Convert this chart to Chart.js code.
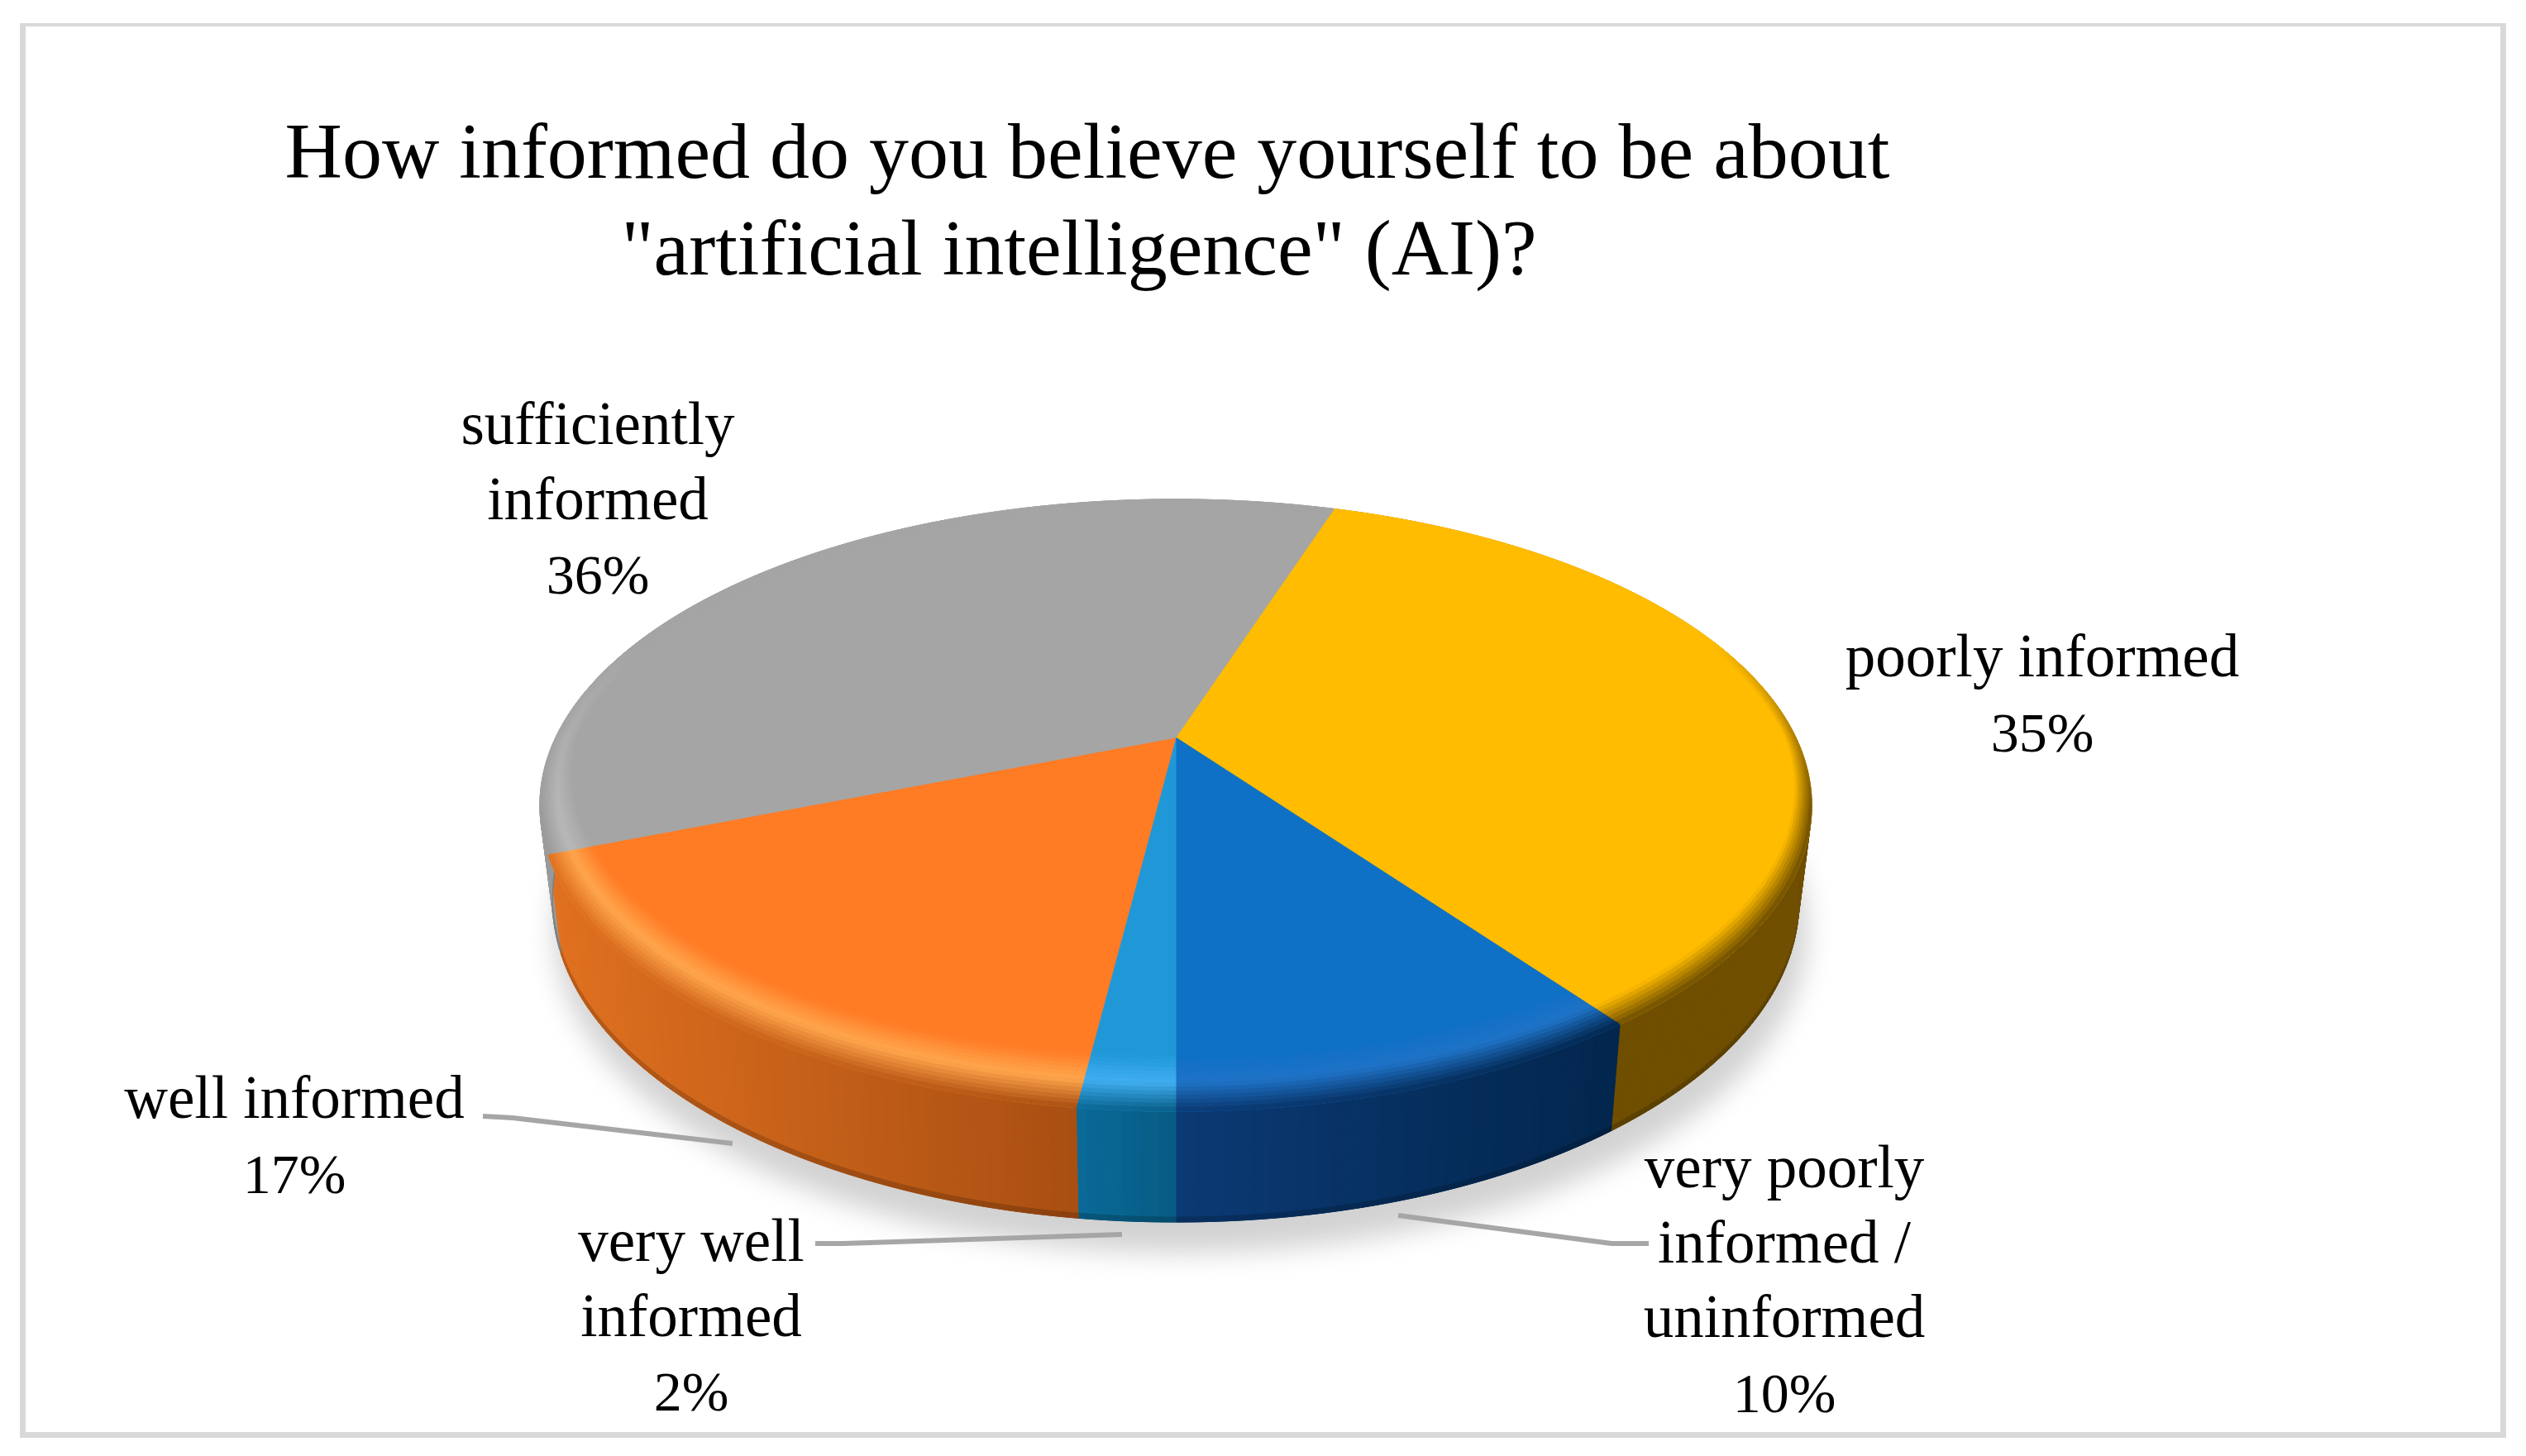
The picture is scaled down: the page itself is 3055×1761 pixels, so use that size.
<!DOCTYPE html>
<html>
<head>
<meta charset="utf-8">
<title>AI survey pie</title>
<script src="https://cdn.jsdelivr.net/npm/chart.js@4"></script>
<style>
  html, body { margin: 0; padding: 0; background: #fff; }
  canvas { display: block; }
</style>
</head>
<body>
<canvas id="pieChart" width="3055" height="1761"></canvas>
<script>
const categories = ['poorly informed', 'very poorly informed / uninformed', 'very well informed', 'well informed', 'sufficiently informed'];
const values = [35, 10, 2, 17, 36];
const titleLines = ['How informed do you believe yourself to be about', '"artificial intelligence" (AI)?'];
const labelLines = [['poorly informed'], ['very poorly', 'informed /', 'uninformed'], ['very well', 'informed'], ['well informed'], ['sufficiently', 'informed']];

const topColors = ['#ffbc00', '#0e71c6', '#2098d8', '#ff7b24', '#a5a5a5'];
const rimColors = ['#ffbc00', '#1f72c6', '#40aef0', '#ffa64d', '#b8b8b8'];
const sideFrom = ['#6f4e00', '#0b3a75', '#0a6a98', '#e0701f', '#9a9a9a'];
const sideTo = ['#6f4e00', '#02264d', '#075c85', '#a94f12', '#9a9a9a'];

// where each label block sits: centre x, first baseline
const labelSpots = [[2470, 818], [2158, 1436], [836, 1525], [356, 1352], [723, 537]];
const leaders = [
  null,
  [[1691, 1470], [1949, 1504], [1994, 1504]],
  [[986, 1504], [1020, 1504], [1357, 1493]],
  [[584, 1350], [620, 1352], [886, 1383]],
  null
];

// tilted disc: the pie's unit circle goes through a perspective projection
const topFace = { dy: 0, d: 750, e: 352, c: -0.2216 };
const baseFace = { dy: 112, d: 735, e: 369, c: -0.2216 };

function project(arc, face, angle, r) {
  const u = r * Math.cos(angle);
  const v = r * Math.sin(angle);
  const k = 1 + face.c * v;
  return [arc.x + face.d * u / k, arc.y + face.dy + face.e * v / k];
}

function hexRgb(hex) {
  return [1, 3, 5].map((i) => parseInt(hex.slice(i, i + 2), 16));
}

function mix(a, b, t) {
  return a.map((n, i) => n + (b[i] - n) * t);
}

function css(c) {
  return `rgb(${c.map((n) => Math.round(n)).join(',')})`;
}

function clamp(n) {
  return Math.min(1, Math.max(0, n));
}

function quad(ctx, pts, color) {
  ctx.fillStyle = color;
  ctx.strokeStyle = color;
  ctx.lineWidth = 1;
  ctx.beginPath();
  pts.forEach((p, i) => (i ? ctx.lineTo(p[0], p[1]) : ctx.moveTo(p[0], p[1])));
  ctx.closePath();
  ctx.fill();
  ctx.stroke();
}

function angleSteps(arc) {
  const n = Math.max(2, Math.ceil((arc.endAngle - arc.startAngle) / 0.012));
  const out = [];
  for (let i = 0; i <= n; i++) out.push(arc.startAngle + (arc.endAngle - arc.startAngle) * i / n);
  return out;
}

function sideColor(i, t) {
  return mix(hexRgb(sideFrom[i]), hexRgb(sideTo[i]), clamp(t));
}

const tiltedPie = {
  id: 'tiltedPie',
  beforeDatasetDraw(chart) {
    const ctx = chart.ctx;
    const arcs = chart.getDatasetMeta(0).data;
    ctx.save();

    // soft shadow under the disc
    ctx.save();
    ctx.filter = 'blur(16px)';
    ctx.fillStyle = '#d2d2d2';
    ctx.beginPath();
    for (let a = 0; a < Math.PI * 2; a += 0.02) {
      const p = project(arcs[0], baseFace, a, 1.005);
      ctx.lineTo(p[0] + 6, p[1] + 34);
    }
    ctx.closePath();
    ctx.fill();
    ctx.restore();

    // side wall
    arcs.forEach((arc, i) => {
      const steps = angleSteps(arc);
      const xs = steps.map((a) => project(arc, topFace, a, 1)[0]);
      const xMin = Math.min(...xs);
      const xMax = Math.max(...xs);
      for (let s = 0; s < steps.length - 1; s++) {
        const col = sideColor(i, (xs[s] - xMin) / (xMax - xMin || 1));
        const a0 = project(arc, topFace, steps[s], 1);
        const a1 = project(arc, topFace, steps[s + 1], 1);
        const b0 = project(arc, baseFace, steps[s], 1);
        const b1 = project(arc, baseFace, steps[s + 1], 1);
        quad(ctx, [a0, a1, b1, b0], css(col));
        const e0 = [b0[0], b0[1] - 6];
        const e1 = [b1[0], b1[1] - 6];
        quad(ctx, [e0, e1, b1, b0], css(mix(col, [0, 0, 0], 0.18)));
      }
    });

    // flat top
    arcs.forEach((arc, i) => {
      const pts = [project(arc, topFace, 0, 0)];
      angleSteps(arc).forEach((a) => pts.push(project(arc, topFace, a, 1)));
      quad(ctx, pts, topColors[i]);
    });

    // rounded rim between the top and the wall
    arcs.forEach((arc, i) => {
      const steps = angleSteps(arc);
      const xs = steps.map((a) => project(arc, topFace, a, 1)[0]);
      const xMin = Math.min(...xs);
      const xMax = Math.max(...xs);
      const top = hexRgb(topColors[i]);
      const rim = hexRgb(rimColors[i]);
      const rows = 14;
      for (let s = 0; s < steps.length - 1; s++) {
        const a0 = steps[s];
        const a1 = steps[s + 1];
        const v = Math.sin((a0 + a1) / 2);
        const width = 0.035 + 0.085 * Math.max(0, v);
        const face = clamp((v + 0.35) / 0.6);
        const lit = mix(top, rim, face);
        const side = sideColor(i, (xs[s] - xMin) / (xMax - xMin || 1));
        for (let row = 0; row < rows; row++) {
          const t = (row + 0.5) / rows;
          const r0 = 1 - width * (1 - row / rows);
          const r1 = 1 - width * (1 - (row + 1) / rows);
          let c;
          if (t < 0.5) c = mix(top, lit, t / 0.5);
          else c = mix(lit, side, ((t - 0.5) / 0.5) * face);
          quad(ctx, [
            project(arc, topFace, a0, r0),
            project(arc, topFace, a1, r0),
            project(arc, topFace, a1, r1),
            project(arc, topFace, a0, r1)
          ], css(c));
        }
      }
    });
    ctx.restore();
    return false;
  },
  afterDraw(chart) {
    const ctx = chart.ctx;
    ctx.save();
    ctx.fillStyle = '#000';
    ctx.textAlign = 'center';
    ctx.textBaseline = 'alphabetic';

    ctx.font = '96px "Liberation Serif"';
    ctx.fillText(titleLines[0], 1315, 215);
    ctx.fillText(titleLines[1], 1305, 332);

    // leader lines
    ctx.strokeStyle = '#a6a6a6';
    ctx.lineWidth = 6;
    leaders.forEach((pts) => {
      if (!pts) return;
      ctx.beginPath();
      pts.forEach((p, i) => (i ? ctx.lineTo(p[0], p[1]) : ctx.moveTo(p[0], p[1])));
      ctx.stroke();
    });

    // labels, name then value
    labelLines.forEach((lines, i) => {
      const [x, y] = labelSpots[i];
      ctx.font = '73px "Liberation Serif"';
      lines.forEach((line, n) => ctx.fillText(line, x, y + n * 90.5));
      ctx.font = '68px "Liberation Serif"';
      ctx.fillText(`${values[i]}%`, x, y + lines.length * 90.5);
    });
    ctx.restore();
  }
};

// frame round the whole figure, the top edge is thinner in the source
const frame = {
  id: 'frame',
  beforeDraw(chart) {
    const ctx = chart.ctx;
    ctx.save();
    ctx.fillStyle = '#d9d9d9';
    ctx.fillRect(24, 28, 3007, 4);
    ctx.fillRect(24, 28, 7, 1711);
    ctx.fillRect(3024, 28, 7, 1711);
    ctx.fillRect(24, 1732, 3007, 7);
    ctx.restore();
  }
};

new Chart(document.getElementById('pieChart'), {
  type: 'pie',
  data: {
    labels: categories,
    datasets: [{ data: values, backgroundColor: topColors, borderWidth: 0 }]
  },
  options: {
    responsive: false,
    animation: false,
    rotation: 18,
    layout: { padding: { top: 23, right: 211 } },
    plugins: {
      legend: { display: false },
      title: { display: false },
      tooltip: { enabled: false }
    }
  },
  plugins: [frame, tiltedPie]
});
</script>
</body>
</html>
